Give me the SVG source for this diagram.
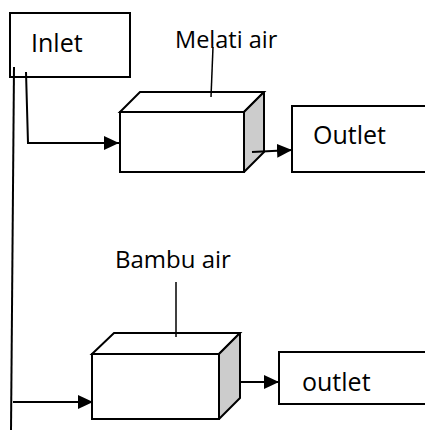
<svg xmlns="http://www.w3.org/2000/svg" width="425" height="430" viewBox="0 0 425 430">
<style>
.box{fill:#fff;stroke:#000;stroke-width:2}
.side{fill:#cccccc;stroke:#000;stroke-width:2;stroke-linejoin:round}
.ln{fill:none;stroke:#000;stroke-width:2}
.thin{fill:none;stroke:#000;stroke-width:1.5}
text{font-family:"Open Sans","Liberation Sans",sans-serif;fill:#000}
</style>
<defs>
<marker id="ah" markerUnits="userSpaceOnUse" markerWidth="16" markerHeight="14" refX="15" refY="7" orient="auto">
<path d="M0,0 L15,7 L0,14 Z" fill="#000"/>
</marker>
</defs>
<rect width="425" height="430" fill="#fff"/>
<g id="inlet">
<rect class="box" x="10" y="13" width="120" height="64"/>
<text x="31" y="52" font-size="25">Inlet</text>
</g>
<g id="melati">
<path class="box" d="M120,112 L140,92 L264,92 L244,112 Z"/>
<path class="side" d="M244,112 L264,92 L264,152 L244,172 Z"/>
<rect class="box" x="120" y="112" width="124" height="60"/>
<text x="175" y="48" font-size="23.5">Melati air</text>
<path class="thin" d="M213,47 L211,97"/>
</g>
<g id="outlet1">
<rect class="box" x="292" y="106" width="140" height="66"/>
<text x="313" y="144" font-size="25">Outlet</text>
</g>
<g id="bambu">
<path class="box" d="M92,354 L114,333 L240,333 L219,354 Z"/>
<path class="side" d="M219,354 L240,333 L240,398 L219,419 Z"/>
<rect class="box" x="92" y="354" width="127" height="65"/>
<text x="115" y="268" font-size="24">Bambu air</text>
<path class="thin" d="M176,282 L176,337"/>
</g>
<g id="outlet2">
<rect class="box" x="279" y="352" width="150" height="52"/>
<text x="302" y="391" font-size="25">outlet</text>
</g>
<g id="connectors">
<path class="ln" d="M14,67 L11,430"/>
<path class="ln" d="M26,72 L28,143 L119,143" marker-end="url(#ah)"/>
<path class="ln" d="M252,152 L292,150" marker-end="url(#ah)"/>
<path class="ln" d="M13,402 L93,402" marker-end="url(#ah)"/>
<path class="ln" d="M241,382 L279,382" marker-end="url(#ah)"/>
</g>
</svg>
